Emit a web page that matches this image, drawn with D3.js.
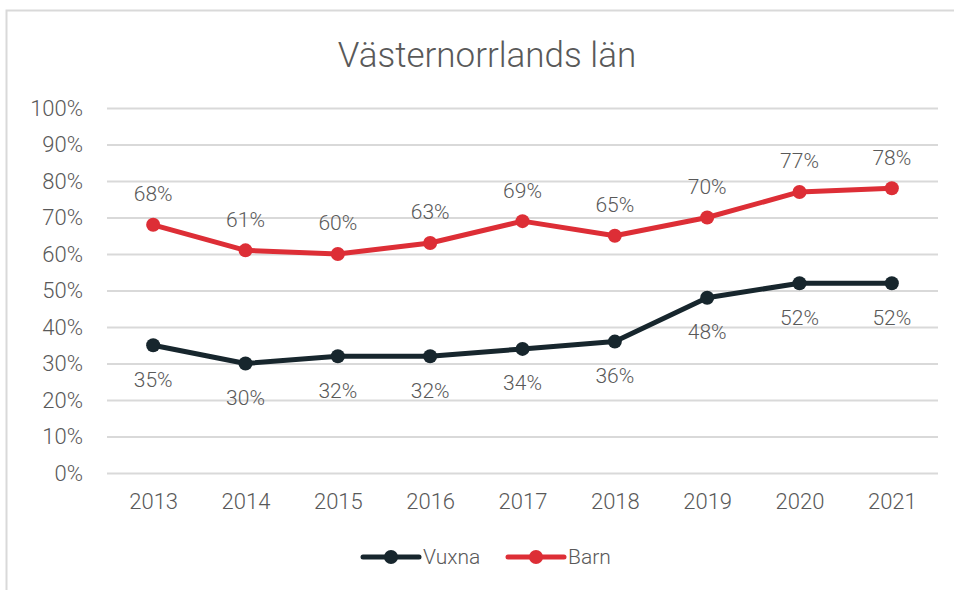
<!DOCTYPE html>
<html>
<head>
<meta charset="utf-8">
<script src="https://cdn.jsdelivr.net/npm/d3@7"></script>
<style>
  body { margin: 0; background: #fff; }
  text { font-family: Roboto, "Liberation Sans", sans-serif; font-weight: 300; fill: #595959; }
</style>
</head>
<body>
<script>
const years = ["2013", "2014", "2015", "2016", "2017", "2018", "2019", "2020", "2021"];
const vuxna = [35, 30, 32, 32, 34, 36, 48, 52, 52];
const barn = [68, 61, 60, 63, 69, 65, 70, 77, 78];
const yTicks = [0, 10, 20, 30, 40, 50, 60, 70, 80, 90, 100];

const series = [
  {name: "Vuxna", values: vuxna, color: "#17262d", labelDy: 34},
  {name: "Barn", values: barn, color: "#dd2e36", labelDy: -31}
];

const width = 954, height = 590;
const margin = {top: 108, right: 16, bottom: 117, left: 107};

const svg = d3.select("body")
  .append("svg")
    .attr("width", width)
    .attr("height", height);

// chart border (only top and left visible in the crop)
svg.append("path")
  .attr("d", "M6.5,600 V10.5 H960")
  .attr("fill", "none")
  .attr("stroke", "#d9d9d9")
  .attr("stroke-width", 2);

const x = d3.scalePoint()
  .domain(years)
  .range([margin.left, width - margin.right])
  .padding(0.5);

const y = d3.scaleLinear()
  .domain([0, 100])
  .range([height - margin.bottom, margin.top]);

svg.append("text")
  .attr("x", 487)
  .attr("y", 67)
  .attr("text-anchor", "middle")
  .style("font-size", "35px")
  .text("Västernorrlands län");

// gridlines + y labels
const yAxis = svg.append("g")
  .attr("transform", `translate(${margin.left},0)`)
  .call(d3.axisLeft(y)
    .tickValues(yTicks)
    .tickSize(-(width - margin.left - margin.right))
    .tickPadding(24)
    .tickFormat(d => d + "%"));
yAxis.select(".domain").remove();
yAxis.selectAll(".tick line").attr("stroke", "#d9d9d9").attr("stroke-width", 2);
yAxis.selectAll(".tick text").style("font-size", "22px").attr("fill", null);

// x labels
const xAxis = svg.append("g")
  .attr("transform", `translate(0,${height - margin.bottom})`)
  .call(d3.axisBottom(x).tickSize(0).tickPadding(20));
xAxis.select(".domain").remove();
xAxis.selectAll(".tick text").style("font-size", "22px").attr("fill", null);

const line = d3.line()
  .x((d, i) => x(years[i]))
  .y(d => y(d));

series.forEach(s => {
  const g = svg.append("g");
  g.append("path")
    .datum(s.values)
    .attr("d", line)
    .attr("fill", "none")
    .attr("stroke", s.color)
    .attr("stroke-width", 5)
    .attr("stroke-linejoin", "round");
  g.selectAll("circle")
    .data(s.values)
    .enter().append("circle")
      .attr("cx", (d, i) => x(years[i]))
      .attr("cy", d => y(d))
      .attr("r", 7)
      .attr("fill", s.color);
  g.selectAll(".lbl")
    .data(s.values)
    .enter().append("text")
      .attr("class", "lbl")
      .attr("x", (d, i) => x(years[i]))
      .attr("y", d => y(d) + s.labelDy)
      .attr("dy", "0.35em")
      .attr("text-anchor", "middle")
      .style("font-size", "21px")
      .text(d => d + "%");
});

// legend
const legend = svg.append("g")
  .attr("transform", "translate(363,557)");
const item = legend.selectAll("g")
  .data(series)
  .enter().append("g")
    .attr("transform", (d, i) => `translate(${i * 145},0)`);
item.append("line")
  .attr("x1", 0).attr("x2", 56)
  .attr("stroke", d => d.color)
  .attr("stroke-width", 5)
  .attr("stroke-linecap", "round");
item.append("circle")
  .attr("cx", 28)
  .attr("r", 7)
  .attr("fill", d => d.color);
item.append("text")
  .attr("x", 60)
  .attr("dy", "0.35em")
  .style("font-size", "21px")
  .text(d => d.name);
</script>
</body>
</html>
